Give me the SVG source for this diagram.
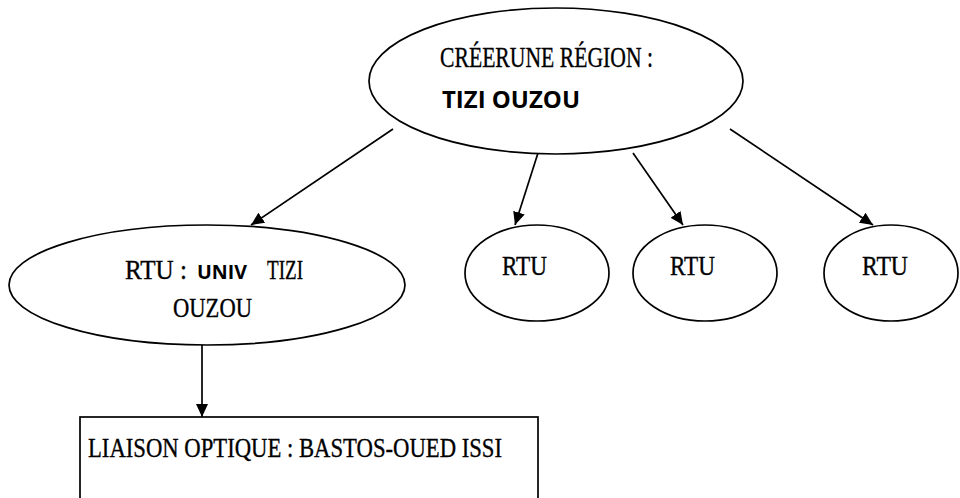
<svg xmlns="http://www.w3.org/2000/svg" width="960" height="498" viewBox="0 0 960 498">
  <style>
    .shape { fill: #ffffff; stroke: #000000; stroke-width: 1.7; }
    .edge { fill: none; stroke: #000000; stroke-width: 1.7; marker-end: url(#arrow); }
    .serif { font-family: "Liberation Serif", "Times New Roman", serif; fill: #000000; stroke: #000000; stroke-width: 0.35; }
    .sansb { font-family: "Open Sans", "Liberation Sans", Arial, sans-serif; font-weight: bold; fill: #000000; }
  </style>
  <defs>
    <marker id="arrow" markerUnits="userSpaceOnUse" markerWidth="14" markerHeight="12" refX="13" refY="6" orient="auto">
      <path d="M0,0 L13,6 L0,12 z" fill="#000000"/>
    </marker>
  </defs>
  <rect width="960" height="498" fill="#ffffff"/>

  <!-- connectors -->
  <g id="connectors">
    <line class="edge" x1="393" y1="129" x2="251" y2="225"/>
    <line class="edge" x1="538" y1="153" x2="515" y2="225"/>
    <line class="edge" x1="633" y1="153" x2="683" y2="225"/>
    <line class="edge" x1="730" y1="129" x2="873" y2="225"/>
    <line class="edge" x1="202" y1="345" x2="202" y2="417"/>
  </g>

  <!-- region node -->
  <g id="region">
    <ellipse class="shape" cx="556" cy="81" rx="187" ry="73"/>
    <text class="serif" x="440" y="67" font-size="30" textLength="213" lengthAdjust="spacingAndGlyphs">CRÉERUNE RÉGION :</text>
    <text class="sansb" x="442" y="108" font-size="22.5" textLength="138" lengthAdjust="spacingAndGlyphs">TIZI OUZOU</text>
  </g>

  <!-- RTU nodes -->
  <g id="rtu-univ">
    <ellipse class="shape" cx="207" cy="285" rx="198" ry="60"/>
    <text class="serif" x="125" y="279" font-size="28" textLength="62" lengthAdjust="spacingAndGlyphs">RTU :</text>
    <text class="sansb" x="197" y="279" font-size="19.5" textLength="50" lengthAdjust="spacingAndGlyphs">UNIV</text>
    <text class="serif" x="267" y="279" font-size="28" textLength="36" lengthAdjust="spacingAndGlyphs">TIZI</text>
    <text class="serif" x="173" y="317" font-size="28" textLength="79" lengthAdjust="spacingAndGlyphs">OUZOU</text>
  </g>
  <g id="rtu-2">
    <ellipse class="shape" cx="537" cy="273" rx="72" ry="48"/>
    <text class="serif" x="502" y="275" font-size="27" textLength="45" lengthAdjust="spacingAndGlyphs">RTU</text>
  </g>
  <g id="rtu-3">
    <ellipse class="shape" cx="705" cy="273" rx="72" ry="48"/>
    <text class="serif" x="670" y="275" font-size="27" textLength="45" lengthAdjust="spacingAndGlyphs">RTU</text>
  </g>
  <g id="rtu-4">
    <ellipse class="shape" cx="891" cy="273" rx="67" ry="48"/>
    <text class="serif" x="862" y="275" font-size="27" textLength="46" lengthAdjust="spacingAndGlyphs">RTU</text>
  </g>

  <!-- optical link box -->
  <g id="liaison">
    <rect class="shape" x="80" y="417" width="458" height="100"/>
    <text class="serif" x="88" y="457" font-size="28" textLength="414" lengthAdjust="spacingAndGlyphs">LIAISON OPTIQUE : BASTOS-OUED ISSI</text>
  </g>
</svg>
